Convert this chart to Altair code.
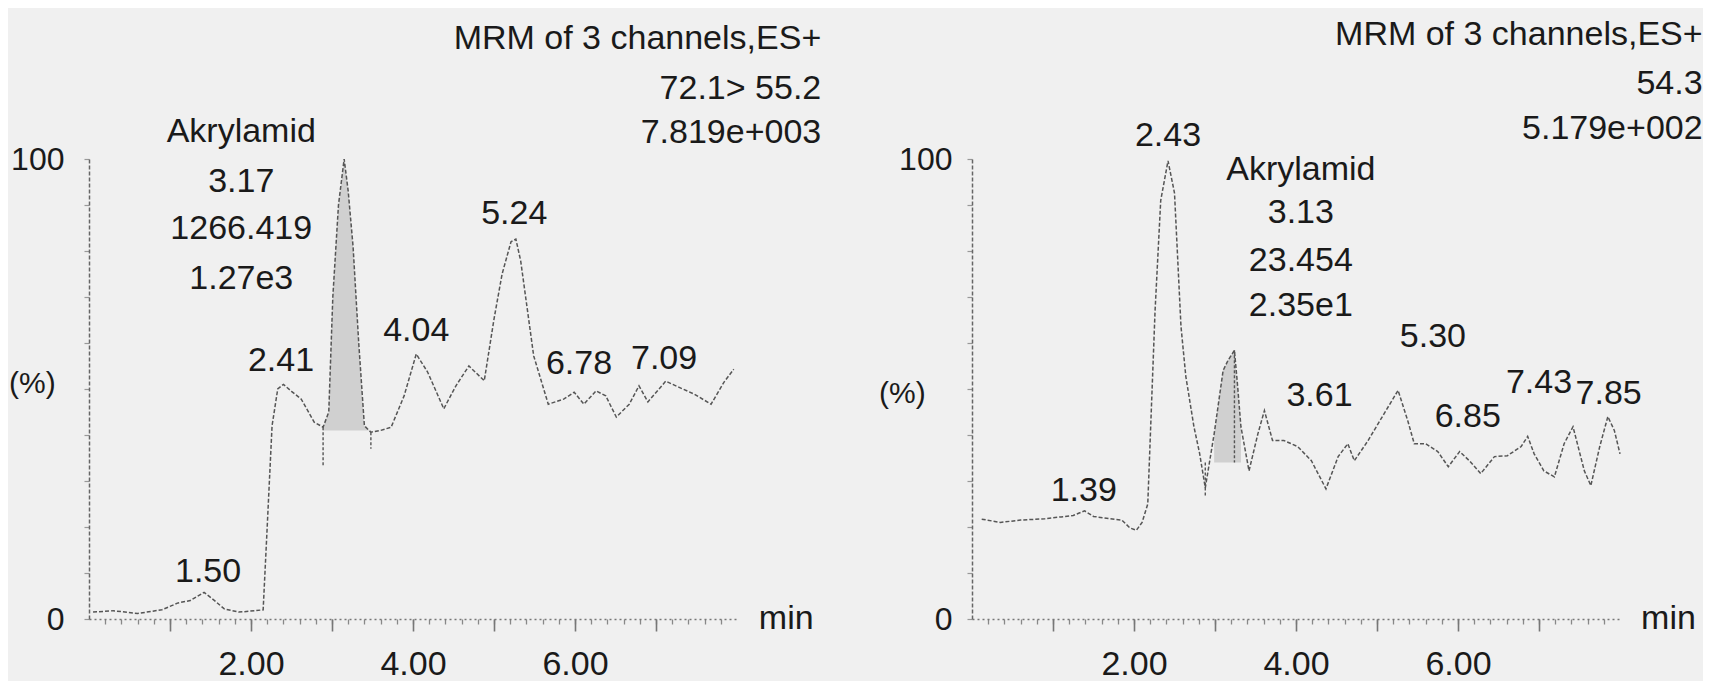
import altair as alt
import pandas as pd

FONT = "Liberation Sans"
INK = "#1a1a1a"
TRACE = "#555555"

# ---------------- left chromatogram: MRM 72.1 > 55.2 ----------------
left_t = [0.05, 0.3, 0.6, 0.9, 1.1, 1.25, 1.42, 1.55, 1.67, 1.85, 2.05, 2.15, 2.2, 2.26, 2.33,
          2.4, 2.5, 2.62, 2.78, 2.89, 2.96, 3.01, 3.08, 3.15, 3.2, 3.26, 3.33, 3.4, 3.48, 3.6,
          3.73, 3.89, 4.04, 4.18, 4.38, 4.53, 4.69, 4.88, 5.0, 5.1, 5.21, 5.27, 5.33, 5.49, 5.67,
          5.86, 5.99, 6.11, 6.26, 6.38, 6.51, 6.67, 6.79, 6.9, 7.12, 7.28, 7.47, 7.68, 7.84, 7.96]
left_v = [1.5, 1.8, 1.2, 2.0, 3.5, 4.0, 5.8, 4.0, 2.2, 1.5, 1.8, 2.0, 20, 42, 50,
          51, 49.5, 47.8, 42.8, 41.7, 45, 70, 90, 100, 93, 81, 60, 42, 40.6, 41,
          41.7, 48.5, 57.6, 53.7, 45.7, 50.7, 55, 51.8, 65.2, 75, 82, 82.6, 77.8, 57.2, 46.7,
          47.8, 49.3, 46.7, 49.6, 48.5, 43.9, 46.7, 50.7, 47.2, 51.7, 50.4, 48.9, 46.7, 51.5, 54.3]
left_fill = [2.89, 3.48]
left_base = 41
left_drop_t = [2.89, 3.48]
left_drop_top = [41.7, 40.6]
left_drop_bot = [33, 37]
left_lab_text = ["1.50", "2.41", "Akrylamid", "3.17", "1266.419", "1.27e3", "4.04", "5.24", "6.78", "7.09"]
left_lab_t = [1.47, 2.37, 1.88, 1.88, 1.88, 1.88, 4.04, 5.25, 6.05, 7.1]
left_lab_v = [10.2, 56, 105.9, 95, 84.8, 73.9, 62.6, 88, 55.4, 56.5]
left_head_text = ["MRM of 3 channels,ES+", "72.1> 55.2", "7.819e+003"]
left_head_v = [126, 115.2, 105.7]
left_head_t = 9.04

# ---------------- right chromatogram: MRM 54.3 ----------------
right_t = [0.12, 0.35, 0.6, 0.9, 1.1, 1.25, 1.39, 1.5, 1.7, 1.85, 1.95, 2.03, 2.1, 2.17, 2.26,
           2.33, 2.42, 2.5, 2.58, 2.64, 2.74, 2.81, 2.88, 2.99, 3.1, 3.16, 3.24, 3.28, 3.32, 3.42,
           3.53, 3.61, 3.71, 3.85, 4.02, 4.19, 4.37, 4.52, 4.64, 4.72, 4.89, 5.09, 5.26, 5.38, 5.46,
           5.6, 5.75, 5.88, 6.02, 6.14, 6.28, 6.45, 6.61, 6.78, 6.86, 6.94, 7.06, 7.19, 7.31, 7.42,
           7.56, 7.64, 7.75, 7.85, 7.93, 8.0]
right_v = [21.7, 21.0, 21.5, 21.8, 22.2, 22.5, 23.5, 22.3, 21.8, 21.5, 19.8, 19.3, 21, 25, 67,
           91, 99.6, 92.6, 63.6, 52.7, 41.8, 36, 28.5, 40.3, 54, 56.2, 58.4, 50.5, 41.8, 32.2,
           40.3, 45.3, 38.8, 38.8, 37.5, 34.4, 28.3, 35.3, 38.1, 34.4, 38.8, 44.7, 49.7, 43.1, 38.1,
           38.1, 36.4, 33.1, 36.4, 34.4, 31.6, 35.3, 35.5, 37.5, 39.7, 35.9, 32.2, 30.9, 38.1, 41.8,
           32.2, 29, 37.5, 44, 41, 35.9]
right_fill = [2.99, 3.32]
right_base = 34
right_drop_t = [2.88, 3.24]
right_drop_top = [34, 58.4]
right_drop_bot = [26.5, 34]
right_lab_text = ["1.39", "2.43", "Akrylamid", "3.13", "23.454", "2.35e1", "3.61", "5.30", "6.85", "7.43", "7.85"]
right_lab_t = [1.38, 2.42, 4.06, 4.06, 4.06, 4.06, 4.29, 5.69, 6.12, 7.0, 7.86]
right_lab_v = [27.9, 105, 97.6, 88.2, 77.8, 68, 48.4, 61.4, 44, 51.2, 49]
right_head_text = ["MRM of 3 channels,ES+", "54.3", "5.179e+002"]
right_head_v = [127, 116.3, 106.5]
right_head_t = 9.02

minor_ticks = [round(0.2 * i, 1) for i in range(1, 40)]
major_ticks = [1, 2, 3, 4, 5, 6, 7]
y_ticks = [0, 10, 20, 30, 40, 50, 60, 70, 80, 90, 100]

X_SCALE = alt.Scale(domain=[0, 8], nice=False, zero=False)
Y_SCALE = alt.Scale(domain=[0, 100], nice=False, zero=False)


def panel(t, v, fill_rng, base, d_t, d_top, d_bot, lab_text, lab_t, lab_v,
          head_text, head_t, head_v, pct_t, pct_v, min_t, ylab_pad):
    trace = pd.DataFrame({"t": t, "v": v})
    fill = trace[(trace.t >= fill_rng[0]) & (trace.t <= fill_rng[1])].assign(b=base)
    drops = pd.DataFrame({"t": d_t, "top": d_top, "bot": d_bot})
    labs = pd.DataFrame({"t": lab_t, "v": lab_v, "label": lab_text})
    heads = pd.DataFrame({"t": [head_t] * len(head_text), "v": head_v, "label": head_text})
    pct = pd.DataFrame({"t": [pct_t], "v": [pct_v], "label": ["(%)"]})
    mins = pd.DataFrame({"t": [min_t], "v": [0], "label": ["min"]})

    x_minor = alt.Axis(values=minor_ticks, tickSize=5, labels=False, title=None, grid=False,
                       domainColor="#777", domainDash=[2, 3], domainWidth=1.5,
                       tickColor="#888", tickWidth=1.3, orient="bottom")
    x_major = alt.Axis(values=major_ticks, tickSize=12, title=None, grid=False,
                       domain=False, tickColor="#777", tickWidth=1.6, orient="bottom",
                       labelExpr="datum.value % 2 === 0 ? format(datum.value, '.2f') : ''",
                       labelFont=FONT, labelFontSize=34, labelColor=INK,
                       labelBaseline="middle", labelPadding=33, labelFlush=False)
    y_axis = alt.Axis(values=y_ticks, tickSize=5, title=None, grid=False,
                      domainColor="#666", domainDash=[4, 2], domainWidth=1.5,
                      tickColor="#999", tickWidth=1.2,
                      labelExpr="datum.value === 0 || datum.value === 100 ? datum.value : ''",
                      labelFont=FONT, labelFontSize=32, labelColor=INK,
                      labelPadding=ylab_pad, labelFlush=False)

    xs = lambda ax: alt.X("t:Q", scale=X_SCALE, axis=ax)
    ys = lambda ax: alt.Y("v:Q", scale=Y_SCALE, axis=ax)

    area = alt.Chart(fill).mark_area(color="#a8a8a8", opacity=0.45).encode(
        x=xs(None), y=ys(None), y2="b:Q")
    line = alt.Chart(trace).mark_line(color=TRACE, strokeWidth=1.5, strokeDash=[4, 2]).encode(
        x=xs(x_minor), y=ys(y_axis))
    drop = alt.Chart(drops).mark_rule(color=TRACE, strokeWidth=1.4, strokeDash=[3, 2]).encode(
        x=xs(None), y=alt.Y("top:Q", scale=Y_SCALE, axis=None), y2="bot:Q")
    text_kw = dict(font=FONT, fontSize=34, color=INK, baseline="middle")
    lab = alt.Chart(labs).mark_text(align="center", **text_kw).encode(
        x=xs(x_major), y=ys(None), text="label:N")
    head = alt.Chart(heads).mark_text(align="right", **text_kw).encode(
        x=xs(None), y=ys(None), text="label:N")
    pct_m = alt.Chart(pct).mark_text(align="center", font=FONT, fontSize=30, color=INK,
                                     baseline="middle").encode(
        x=xs(None), y=ys(None), text="label:N")
    min_m = alt.Chart(mins).mark_text(align="left", **text_kw).encode(
        x=xs(None), y=ys(None), text="label:N")

    return alt.layer(area, line, drop, lab, head, pct_m, min_m).resolve_axis(
        x="independent", y="independent").properties(width=648, height=460)


left = panel(left_t, left_v, left_fill, left_base, left_drop_t, left_drop_top, left_drop_bot,
             left_lab_text, left_lab_t, left_lab_v, left_head_text, left_head_t, left_head_v,
             -0.70, 51, 8.27, 20)
right = panel(right_t, right_v, right_fill, right_base, right_drop_t, right_drop_top, right_drop_bot,
              right_lab_text, right_lab_t, right_lab_v, right_head_text, right_head_t, right_head_v,
              -0.86, 49, 8.26, 15)

chart = alt.hconcat(left, right, spacing=235, bounds="flush").properties(
    background="#f0f0f0",
    padding={"left": 0, "top": 9, "right": 0, "bottom": 0},
).configure_view(stroke=None)

chart.save("out.html", embed_options={"renderer": "svg", "actions": False})
